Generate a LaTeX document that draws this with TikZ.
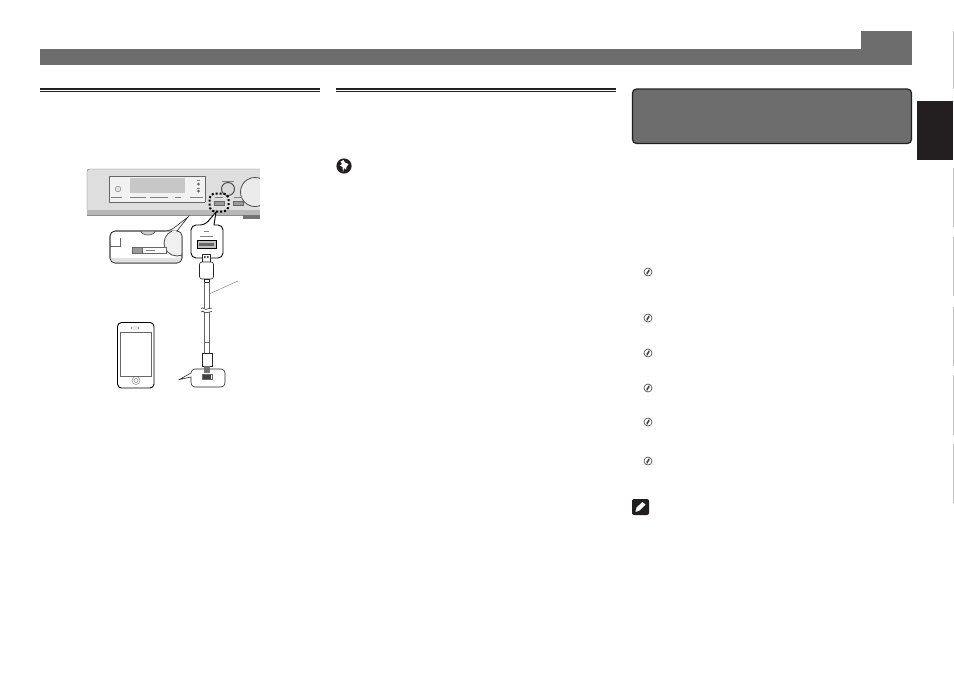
\documentclass[tikz,border=0pt]{standalone}
\tikzset{
  line/.style={draw=black!85,line width=0.6pt},
  thin line/.style={draw=black!60,line width=0.35pt},
  tiny label/.style={draw=black!50,line width=0.7pt},
  side rule/.style={draw=black!25,line width=1pt},
}
\definecolor{hdr}{HTML}{6D6D6D}
\definecolor{ink}{HTML}{231F20}
\begin{document}
\begin{tikzpicture}[x=1pt,y=-1pt]
\useasboundingbox (0,0) rectangle (954,673);
% header
\fill[hdr] (40,49) rectangle (912,65);
\fill[hdr] (861,31) rectangle (912,49);
% section rules
\foreach \a/\b in {40/320,336/616}{
  \fill[ink] (\a,88) rectangle (\b,90);
  \fill[ink] (\a,91.2) rectangle (\b,91.9);
}
% title box
\draw[fill=hdr,draw=ink,line width=1.2pt,rounded corners=4pt] (632.5,89) rectangle (911.5,143.5);
% black tab and side rules
\fill[ink] (917,101) rectangle (953,160);
\foreach \a/\b in {31/89,168/227,237/296,307/366,375/435,444/503}
  \draw[side rule] (953.2,\a) -- (953.2,\b);
% pin icon
\fill[ink] (344,166) circle (7.6);
\fill[white] (340.5,161.5) -- (343.5,160) -- (345,162.5) -- (348.5,164) -- (346.5,167) -- (346,169.5) -- (344,168) -- (343,172) -- (342.5,167) -- (340,165.5) -- (342,164) -- cycle;
% receiver
\fill[black!13] (87,169) rectangle (260,210);
\fill[black!28] (87,210) rectangle (260,215);
\draw[thin line,draw=black!55] (260,169) -- (90,169) .. controls (87.5,169) and (87,170) .. (87,172) -- (87,210);
\draw[thin line,draw=black!45] (87,215) -- (260,215);
\fill[black!55] (243,215) rectangle (260,219);
\fill[black!5] (109,176) rectangle (205,202);
\draw[thin line] (109,176) -- (205,176) -- (205,202) (109,176) -- (109,202) -- (205,202);
\fill[black!22] (130,178) rectangle (185,193);
\draw[thin line,fill=black!10] (118,189) circle (2.8);
\draw[tiny label] (111,197) -- (122,197) (130,197) -- (146,197) (150,197) -- (168,197) (175,197) -- (181,197) (190,197) -- (203,197);
\draw[tiny label] (197,180) -- (200,180) (197,188) -- (200,188);
\fill[black!60] (198.5,184) circle (1.5) (198.5,191) circle (1.5);
% knobs
\draw[line width=0.9pt,draw=black!75,fill=black!15] (228,189) circle (6.5);
\draw[tiny label] (222,181) -- (234,181);
\begin{scope}
\clip (230,165) rectangle (260,212);
\draw[line width=0.8pt,draw=black!70,fill=black!8] (255,192) circle (14.5);
\end{scope}
% ports on front
\draw[thin line,fill=black!40] (233,201) rectangle (243,205);
\draw[tiny label] (234,197) -- (242,197);
\draw[thin line,fill=black!40] (214,201) rectangle (224,205);
\draw[tiny label] (215,197) -- (223,197);
\draw[black,line width=2pt,dash pattern=on 2pt off 2pt,rounded corners=6pt] (209.5,193.5) rectangle (228.5,211.5);
% left callout
\draw[line,fill=white,rounded corners=5pt] (110,231) -- (170,231) [sharp corners] -- (188,217) -- (177,231) [rounded corners=5pt] -- (182,231) -- (182,263) -- (110,263) -- cycle;
\begin{scope}
\clip[rounded corners=5pt] (110,231) rectangle (182,263);
\fill[black!12] (110,258) rectangle (182,263);
\draw[line width=0.8pt,draw=black!70,fill=black!6] (177,243) circle (13);
\draw[line width=0.7pt,draw=black!65,fill=black!18] (148,231) ellipse (7 and 4);
\draw[thin line] (110,246) -- (120,246) -- (120,238);
\end{scope}
\draw[line,rounded corners=5pt] (110,231) rectangle (182,263);
\draw[draw=white,line width=1pt] (172,231) -- (176,231);
\draw[thin line,fill=white] (132,247) rectangle (166,253);
\draw[thin line,fill=black!40] (132,247) rectangle (142,253);
\draw[tiny label] (146,250) -- (155,250);
% right callout
\draw[black,line width=0.9pt,fill=white,rounded corners=5pt] (191,225) -- (205,225) [sharp corners] -- (216,212) -- (214,225) [rounded corners=5pt] -- (223,225) -- (223,258) -- (191,258) -- cycle;
\draw[draw=white,line width=1.2pt] (206,225) -- (213,225);
\draw[tiny label] (204,231.5) -- (209,231.5) (200,236) -- (213,236);
\draw[line width=0.8pt,draw=black,fill=black!25] (197,240) rectangle (216,248);
\fill[black!60] (199,243) rectangle (214,246);
% USB plug
\draw[line,fill=white] (202.5,254) rectangle (210,263);
\fill[black!70] (204,256) rectangle (205.5,258) (207,256) rectangle (208.5,258);
\draw[line,fill=white,rounded corners=2.5pt] (199.5,262) rectangle (213.5,279);
% cable
\draw[line,fill=white] (204,279) rectangle (209,282);
\draw[thin line] (204.5,282) -- (204.5,308) (209,282) -- (209,308);
\draw[thin line] (204.5,312) -- (204.5,342) (209,312) -- (209,342);
\draw[line] (201,308.5) .. controls (203.5,306) and (205,311) .. (207,309) .. controls (209,307) and (210,310) .. (212,308);
\draw[line] (201,312) .. controls (203.5,309.5) and (205,314.5) .. (207,312.5) .. controls (209,310.5) and (210,313.5) .. (212,311.5);
% leader
\coordinate (lead) at (238,281);
\coordinate (cab) at (209,294);
\draw[thin line] (lead) -- (cab);
% lower callout
\draw[line,fill=white,rounded corners=4pt] (191,369) -- (225,369) -- (225,387) -- (191,387) [sharp corners] -- (191,377) -- (179.5,379.5) -- (191,373) [rounded corners=4pt] -- cycle;
% lightning connector
\draw[thin line,fill=white] (204,342) rectangle (209,353);
\draw[line,fill=white] (202,353) rectangle (212,366);
\fill[black!55] (204,366) rectangle (209.5,373);
\fill[black!75] (203,375) rectangle (211,379);
\draw[thin line] (202,374.5) rectangle (212,379.5);
% phone
\draw[line width=0.9pt,draw=black,fill=white,rounded corners=4pt] (117.5,322.5) rectangle (154,388);
\draw[thin line] (120.5,332) rectangle (151,376);
\draw[thin line,rounded corners=1pt] (131,327) rectangle (139,329);
\draw[thin line] (136,380.5) circle (4);
\draw[thin line] (136,380.5) circle (2);
% list bullets
\foreach \y in {272,318,353,388,422,461}{
  \draw[black!75,line width=0.6pt] (648,\y) circle (4);
  \draw[black!75,line width=0.9pt] (646.8,\y+2.5) -- (648.6,\y-0.3) -- (647.4,\y+0.3) -- (649.2,\y-2.5);
}
% note icon
\fill[ink,rounded corners=2pt] (632,499) rectangle (649,515);
\fill[white] (635.5,512) -- (636.5,507.5) -- (642.5,502) -- (645.5,504.5) -- (639.5,510.5) -- cycle;
\end{tikzpicture}
\end{document}
